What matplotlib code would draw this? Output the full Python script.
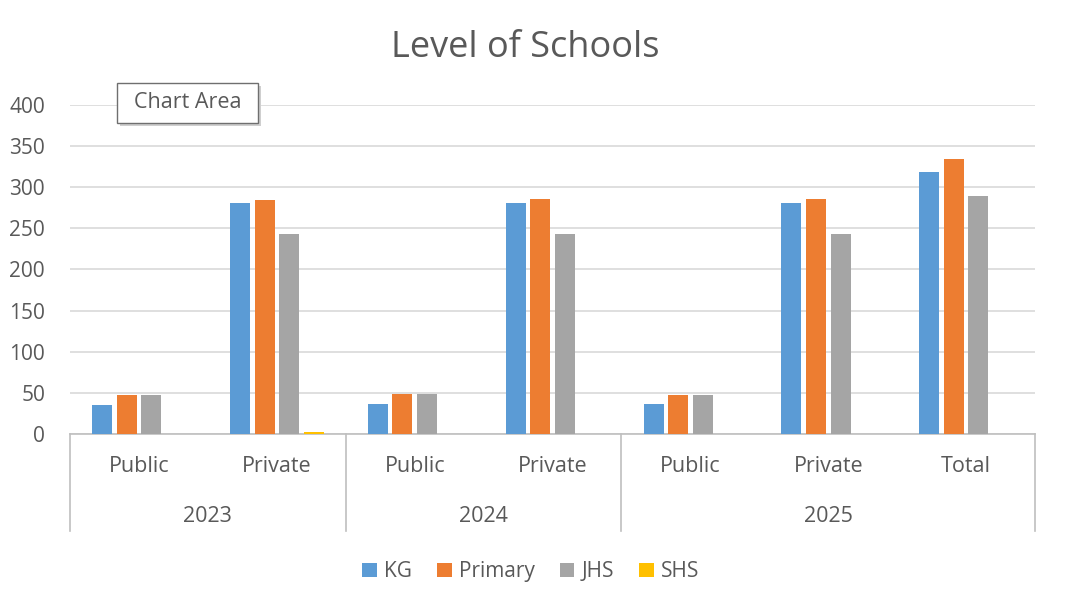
import numpy as np
import matplotlib.pyplot as plt
from matplotlib.patches import Rectangle

plt.rcParams['font.family'] = ['Open Sans', 'DejaVu Sans']

categories = ["Public", "Private", "Public", "Private", "Public", "Private", "Total"]
years = ["2023", "2024", "2025"]
year_spans = [(0, 2), (2, 4), (4, 7)]  # category index ranges
kg = [35, 281, 36, 281, 36, 281, 318]
primary = [47, 284, 49, 286, 48, 286, 334]
jhs = [47, 243, 49, 243, 47, 243, 289]
shs = [0, 2, 0, 0, 0, 0, 0]
series = [("KG", kg, "#5b9bd5"), ("Primary", primary, "#ed7d31"),
          ("JHS", jhs, "#a5a5a5"), ("SHS", shs, "#ffc000")]

fig = plt.figure(figsize=(10.66, 6.11), dpi=100)
ax = fig.add_axes([0.0657, 0.2897, 0.9053, 0.5385])

x = np.arange(len(categories))
step = 0.178
width = 0.145
for k, (name, vals, col) in enumerate(series):
    ax.bar(x + (k - 1.5) * step, vals, width, color=col, label=name, zorder=3)

ax.set_xlim(-0.5, len(categories) - 0.5)
ax.set_ylim(0, 400)
ax.set_yticks(range(0, 401, 50))
ax.yaxis.grid(True, color="#d9d9d9", linewidth=1.2, zorder=0)
for s in ax.spines.values():
    s.set_visible(False)
ax.tick_params(axis="y", length=0, labelsize=15, colors="#595959", pad=18)
ax.set_xticks([])

# category axis with two levels
gray = "#bfbfbf"
trans = ax.get_xaxis_transform()
ax.plot([-0.5, len(categories) - 0.5], [0, 0], color=gray, lw=1.2, transform=trans, clip_on=False)
for i, c in enumerate(categories):
    ax.text(i, -0.10, c, transform=trans, ha="center", va="center",
            fontsize=15.5, color="#595959")
for (a, b), yr in zip(year_spans, years):
    ax.text((a + b - 1) / 2, -0.252, yr, transform=trans, ha="center", va="center",
            fontsize=15.5, color="#595959")
for edge in [-0.5, 1.5, 3.5, 6.5]:
    ax.plot([edge, edge], [0, -0.295], color=gray, lw=1.2, transform=trans, clip_on=False)

fig.text(0.493, 0.921, "Level of Schools", ha="center", va="center",
         fontsize=26, color="#595959")

# "Chart Area" tooltip with a soft shadow
bx, by, bw, bh = 0.1098, 0.7987, 0.1322, 0.0655
fig.patches.append(Rectangle((bx + 0.003, by - 0.005), bw, bh, transform=fig.transFigure,
                             fc="#cfcfcf", ec="none", zorder=4))
fig.patches.append(Rectangle((bx, by), bw, bh, transform=fig.transFigure,
                             fc="white", ec="#6f6f6f", lw=1.0, zorder=5))
fig.text(bx + bw / 2, by + bh / 2, "Chart Area", ha="center", va="center", fontsize=15.5,
         color="#595959", zorder=6)

leg = fig.legend(loc="center", bbox_to_anchor=(0.498, 0.064), ncol=4, frameon=False,
                 fontsize=15, handlelength=0.7, handleheight=0.7, handletextpad=0.35,
                 columnspacing=1.2)
for t in leg.get_texts():
    t.set_color("#595959")

fig.savefig("out.png", dpi=100)
